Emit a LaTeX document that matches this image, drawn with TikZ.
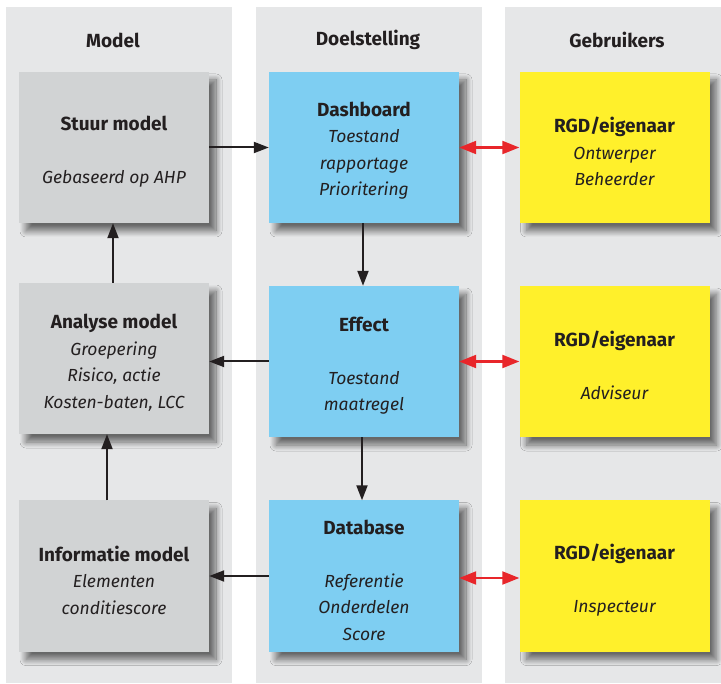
\documentclass[tikz,border=0pt]{standalone}
\usepackage{fontspec}
\setmainfont{Fira Sans}
\usetikzlibrary{arrows.meta,shadows.blur}

\definecolor{colbg}{HTML}{E6E7E8}
\definecolor{modelgray}{HTML}{D1D3D4}
\definecolor{goalblue}{HTML}{7ECEF2}
\definecolor{useryellow}{HTML}{FFF02B}
\definecolor{inktext}{HTML}{231F20}
\definecolor{linkred}{HTML}{E8262A}

\newcommand{\hd}[1]{{\fontsize{19}{26.5}\selectfont\bfseries #1}}
\newcommand{\itl}[1]{{\itshape #1}}

\begin{document}
\begin{tikzpicture}[x=1pt,y=-1pt,
  column/.style={fill=colbg,draw=none},
  header/.style={font=\fontsize{19}{22}\selectfont\bfseries,text=inktext},
  card/.style={minimum width=190pt,minimum height=151pt,inner sep=0pt,
    blur shadow={shadow xshift=7pt,shadow yshift=-8pt,shadow blur steps=14,
      shadow blur radius=6pt,shadow opacity=55}},
  cardtext/.style={align=center,text=inktext,inner sep=0pt,
    font=\fontsize{17.5}{26.5}\selectfont},
  modelcard/.style={card,fill=modelgray},
  goalcard/.style={card,fill=goalblue},
  usercard/.style={card,fill=useryellow},
  flow/.style={draw=inktext,line width=2pt,
    -{Triangle[length=15pt,width=11pt]}},
  link/.style={draw=linkred,line width=2.2pt,
    {Triangle[length=17pt,width=13pt]}-{Triangle[length=17pt,width=13pt]}}
]
\useasboundingbox (0,0) rectangle (721,684);
\fill[white] (0,0) rectangle (721,684);

% three column bands
\fill[column] (6,7) rectangle (232,683);
\fill[column] (256,7) rectangle (482,683);
\fill[column] (505,7) rectangle (721,683);

\node[header] (hmodel) at (113,40) {Model};
\node[header] (hdoel) at (368,40) {Doelstelling};
\node[header] (hgebr) at (617,40) {Gebruikers};

% model column
\node[modelcard] (stuur) at (114,147.5) {};
\node[modelcard] (analyse) at (114,358.5) {};
\node[modelcard] (info) at (114,576) {};

% objective column
\node[goalcard] (dash) at (364,147.5) {};
\node[goalcard] (effect) at (364,361.5) {};
\node[goalcard] (db) at (364,576) {};

% users column
\node[usercard] (user1) at (614.5,147.5) {};
\node[usercard] (user2) at (614.5,361.5) {};
\node[usercard] (user3) at (614.5,576) {};

% card contents
\node[cardtext] (stuurtxt) at ([yshift=-4pt]stuur.center)
  {\hd{Stuur model}\\[26.5pt]\itl{Gebaseerd op AHP}};
\node[cardtext] (analysetxt) at ([yshift=-4pt]analyse.center)
  {\hd{Analyse model}\\\itl{Groepering}\\\itl{Risico, actie}\\\itl{Kosten-baten, LCC}};
\node[cardtext] (infotxt) at ([yshift=-4pt]info.center)
  {\hd{Informatie model}\\\itl{Elementen}\\\itl{conditiescore}};
\node[cardtext] (dashtxt) at ([yshift=-3pt]dash.center)
  {\hd{Dashboard}\\\itl{Toestand}\\\itl{rapportage}\\\itl{Prioritering}};
\node[cardtext] (effecttxt) at ([yshift=-4pt]effect.center)
  {\hd{Effect}\\[26.5pt]\itl{Toestand}\\\itl{maatregel}};
\node[cardtext] (dbtxt) at ([yshift=-4pt]db.center)
  {\hd{Database}\\[26.5pt]\itl{Referentie}\\\itl{Onderdelen}\\\itl{Score}};
\node[cardtext] (user1txt) at ([yshift=-4pt]user1.center)
  {\hd{RGD/eigenaar}\\\itl{Ontwerper}\\\itl{Beheerder}};
\node[cardtext] (user2txt) at ([yshift=-4pt]user2.center)
  {\hd{RGD/eigenaar}\\[26.5pt]\itl{Adviseur}};
\node[cardtext] (user3txt) at ([yshift=-4pt]user3.center)
  {\hd{RGD/eigenaar}\\[26.5pt]\itl{Inspecteur}};

% information flow
\draw[flow] (stuur.east) -- (dash.west);
\draw[flow] ([xshift=-1pt]dash.south) -- ([xshift=-1pt]effect.north);
\draw[flow] (effect.west) -- (effect.west -| analyse.east);
\draw[flow] ([xshift=-2pt]effect.south) -- ([xshift=-2pt]db.north);
\draw[flow] (db.west) -- (info.east);
\draw[flow] ([xshift=-7pt]info.north) -- ([xshift=-7pt]analyse.south);
\draw[flow] ([xshift=-1pt]analyse.north) -- ([xshift=-1pt]stuur.south);

% links to users
\draw[link] (dash.east) -- (user1.west);
\draw[link] (effect.east) -- (user2.west);
\draw[link] ([yshift=-2pt]db.east) -- ([yshift=-2pt]user3.west);
\end{tikzpicture}
\end{document}
